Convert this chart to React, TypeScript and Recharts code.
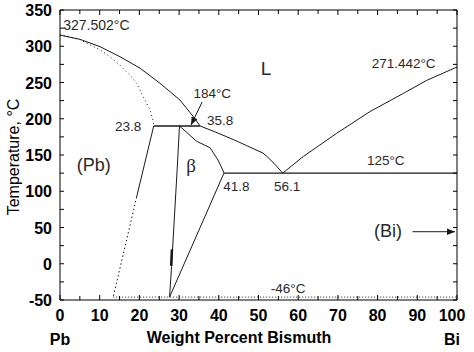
import React from 'react'
import { ComposedChart, Line, Scatter, XAxis, YAxis } from 'recharts'

// phase boundaries (wt% Bi, °C)
const liquidusPb = [
  { x: 0, y: 315.5 }, { x: 5, y: 309.6 }, { x: 10.1, y: 299.4 }, { x: 15.1, y: 285.6 },
  { x: 20.2, y: 269.6 }, { x: 25.2, y: 248.9 }, { x: 30.2, y: 225.9 }, { x: 33.6, y: 202.8 }, { x: 35.3, y: 190 },
]
const solidusPb = [
  { x: 0, y: 315.5 }, { x: 5, y: 309 }, { x: 10.1, y: 295 }, { x: 12.6, y: 285.6 }, { x: 15.1, y: 274 },
  { x: 17.6, y: 260 }, { x: 19.3, y: 249 }, { x: 21, y: 230 }, { x: 22.7, y: 212 }, { x: 23.5, y: 196 }, { x: 23.6, y: 190 },
]
const peritectic = [{ x: 23.6, y: 190 }, { x: 35.3, y: 190 }]
const solvusPb = [{ x: 23.6, y: 190 }, { x: 19.3, y: 92 }]
const solvusPbDotted = [{ x: 19.3, y: 92 }, { x: 13.4, y: -46 }]
const betaLeft = [{ x: 30.1, y: 190 }, { x: 29.5, y: 129 }, { x: 28.1, y: -4 }, { x: 27.6, y: -46 }]
const betaRight = [
  { x: 30.1, y: 190 }, { x: 34.4, y: 169 }, { x: 37.8, y: 160 }, { x: 39.8, y: 143 },
  { x: 41.1, y: 128 }, { x: 41.3, y: 125 }, { x: 27.6, y: -46 },
]
const betaMark = [{ x: 28.2, y: 20 }, { x: 28.0, y: -3 }]
const liquidusMid = [
  { x: 35.3, y: 190 }, { x: 39, y: 182 }, { x: 43.8, y: 171 }, { x: 47, y: 163 }, { x: 51.1, y: 152.7 },
  { x: 52.2, y: 147.7 }, { x: 53.9, y: 138.5 }, { x: 56.1, y: 125 },
]
const liquidusBi = [
  { x: 56.1, y: 125 }, { x: 61.3, y: 148 }, { x: 69.7, y: 180 }, { x: 78.1, y: 210 },
  { x: 86.5, y: 235 }, { x: 92.4, y: 253 }, { x: 100, y: 271.4 },
]
const eutectic = [{ x: 41.3, y: 125 }, { x: 100, y: 125 }]
const transition = [{ x: 13.4, y: -46 }, { x: 100, y: -46 }]
const arrow184 = [{ x: 35.8, y: 223 }, { x: 33.0, y: 191.4 }]
const arrowBi = [{ x: 88.8, y: 44.2 }, { x: 99.5, y: 44.2 }]

const labels = [
  { x: 0.8, y: 322.4, text: '327.502°C', size: 14, anchor: 'start' },
  { x: 51.9, y: 260.3, text: 'L', size: 19, anchor: 'middle' },
  { x: 78.5, y: 270, text: '271.442°C', size: 13.5, anchor: 'start' },
  { x: 33.6, y: 228.6, text: '184°C', size: 13.5, anchor: 'start' },
  { x: 37, y: 191.4, text: '35.8', size: 13.5, anchor: 'start' },
  { x: 13.85, y: 183.5, text: '23.8', size: 13.5, anchor: 'start' },
  { x: 4.2, y: 127.9, text: '(Pb)', size: 18, anchor: 'start' },
  { x: 33, y: 126.6, text: 'β', size: 19, anchor: 'middle', serif: true },
  { x: 41.1, y: 100.3, text: '41.8', size: 13.5, anchor: 'start' },
  { x: 53.9, y: 100.3, text: '56.1', size: 13.5, anchor: 'start' },
  { x: 77.3, y: 136.2, text: '125°C', size: 13.5, anchor: 'start' },
  { x: 79.1, y: 37.3, text: '(Bi)', size: 18, anchor: 'start' },
  { x: 53.1, y: -40, text: '-46°C', size: 13.5, anchor: 'start' },
]

const xTicks = [0, 5, 10, 15, 20, 25, 30, 35, 40, 45, 50, 55, 60, 65, 70, 75, 80, 85, 90, 95, 100]
const yTicks = [-50, -25, 0, 25, 50, 75, 100, 125, 150, 175, 200, 225, 250, 275, 300, 325, 350]
const endNames: Record<number, string> = { 0: 'Pb', 100: 'Bi' }

const FONT = '"Liberation Sans", Arial, sans-serif'
const INK = '#1a1a1a'
const TICK = 4

// ticks point into the plot, labels sit outside
const BottomTick = (props: any) => {
  const { x, y, payload } = props
  const v = payload.value
  const major = v % 10 === 0
  const tx = v === 100 ? x - 5 : x
  return (
    <g>
      <line x1={x} x2={x} y1={y} y2={y - (major ? TICK + 1 : TICK)} stroke="#000" />
      {major && (
        <g fontFamily={FONT} fontWeight="bold" fontSize={16} fill="#000">
          <text x={tx} y={y + 21} textAnchor="middle">{v}</text>
          {endNames[v] && <text x={tx} y={y + 45} textAnchor="middle">{endNames[v]}</text>}
        </g>
      )}
    </g>
  )
}

const TopTick = (props: any) => {
  const { x, y, payload } = props
  const major = payload.value % 10 === 0
  return <line x1={x} x2={x} y1={y} y2={y + (major ? TICK + 1 : TICK)} stroke="#000" />
}

const LeftTick = (props: any) => {
  const { x, y, payload } = props
  const v = payload.value
  return (
    <g>
      <line x1={x} x2={x + TICK} y1={y} y2={y} stroke="#000" />
      {v % 50 === 0 && (
        <text x={x - 8} y={y + 6} textAnchor="end" fontFamily={FONT} fontWeight="bold" fontSize={16} fill="#000">
          {v}
        </text>
      )}
    </g>
  )
}

const RightTick = (props: any) => {
  const { x, y } = props
  return <line x1={x} x2={x - TICK} y1={y} y2={y} stroke="#000" />
}

const arrowHead = (props: any) => {
  const { index, points, cx, cy } = props
  if (!points || index !== points.length - 1) return <g key={`d${index}`} />
  const p = points[index - 1]
  const ang = (Math.atan2(cy - p.y, cx - p.x) * 180) / Math.PI
  return (
    <path key={`d${index}`} d="M0,0 L-8,-3.2 L-8,3.2 Z" fill={INK}
      transform={`translate(${cx},${cy}) rotate(${ang})`} />
  )
}

const labelShape = (props: any) => {
  const { cx, cy, payload } = props
  return (
    <text x={cx} y={cy} textAnchor={payload.anchor} fontSize={payload.size}
      fontFamily={payload.serif ? '"Liberation Serif", serif' : FONT} fill="#2a2a2a">
      {payload.text}
    </text>
  )
}

const seg = (data: any[], key: string, extra: any = {}) => (
  <Line key={key} data={data} dataKey="y" type="linear" stroke={INK} strokeWidth={1}
    dot={false} activeDot={false} isAnimationActive={false} {...extra} />
)

export default function App() {
  return (
    <div style={{ position: 'absolute', left: 0, top: 0, background: '#fff' }}>
      <ComposedChart width={474} height={352} margin={{ top: 9, right: 16, bottom: 0, left: 0 }}>
        <XAxis xAxisId={0} dataKey="x" type="number" domain={[0, 100]} ticks={xTicks} allowDataOverflow
          height={52} tickSize={0} tickMargin={0} tickLine={false} axisLine={{ stroke: '#000' }}
          tick={<BottomTick />} interval={0}
          label={{
            content: () => (
              <text x={239} y={343} textAnchor="middle"
                fontFamily={FONT} fontWeight="bold" fontSize={16} fill="#000">Weight Percent Bismuth</text>
            ),
          }} />
        <XAxis xAxisId="top" orientation="top" dataKey="x" type="number" domain={[0, 100]} ticks={xTicks}
          allowDataOverflow height={1} tickSize={0} tickMargin={0} tickLine={false} interval={0}
          tick={<TopTick />} axisLine={{ stroke: '#000' }} />
        <YAxis yAxisId={0} dataKey="y" type="number" domain={[-50, 350]} ticks={yTicks} allowDataOverflow
          width={60} tickSize={0} tickMargin={0} tickLine={false} interval={0}
          tick={<LeftTick />} axisLine={{ stroke: '#000' }}
          label={{
            content: () => (
              <text x={13} y={157} transform="rotate(-90, 13, 157)" textAnchor="middle"
                dominantBaseline="central" fontFamily={FONT} fontSize={16} fill="#000">Temperature, °C</text>
            ),
          }} />
        <YAxis yAxisId="right" orientation="right" type="number" domain={[-50, 350]} ticks={yTicks}
          allowDataOverflow width={1} tickSize={0} tickMargin={0} tickLine={false} interval={0}
          tick={<RightTick />} axisLine={{ stroke: '#000' }} />

        {seg(liquidusPb, 'liqPb')}
        {seg(solidusPb, 'solPb', { strokeDasharray: '1 3' })}
        {seg(peritectic, 'peri', { strokeWidth: 1.4 })}
        {seg(solvusPb, 'solvPb')}
        {seg(solvusPbDotted, 'solvPbDot', { strokeDasharray: '1.5 2.5' })}
        {seg(betaLeft, 'betaL')}
        {seg(betaRight, 'betaR')}
        {seg(betaMark, 'betaMark', { strokeWidth: 2.5 })}
        {seg(liquidusMid, 'liqMid')}
        {seg(liquidusBi, 'liqBi')}
        {seg(eutectic, 'eut', { strokeWidth: 1.2 })}
        {seg(transition, 'trans', { strokeDasharray: '1 2' })}
        {seg(arrow184, 'arr184', { dot: arrowHead })}
        {seg(arrowBi, 'arrBi', { dot: arrowHead })}

        <Scatter data={labels} dataKey="y" shape={labelShape} isAnimationActive={false} />
      </ComposedChart>
    </div>
  )
}
